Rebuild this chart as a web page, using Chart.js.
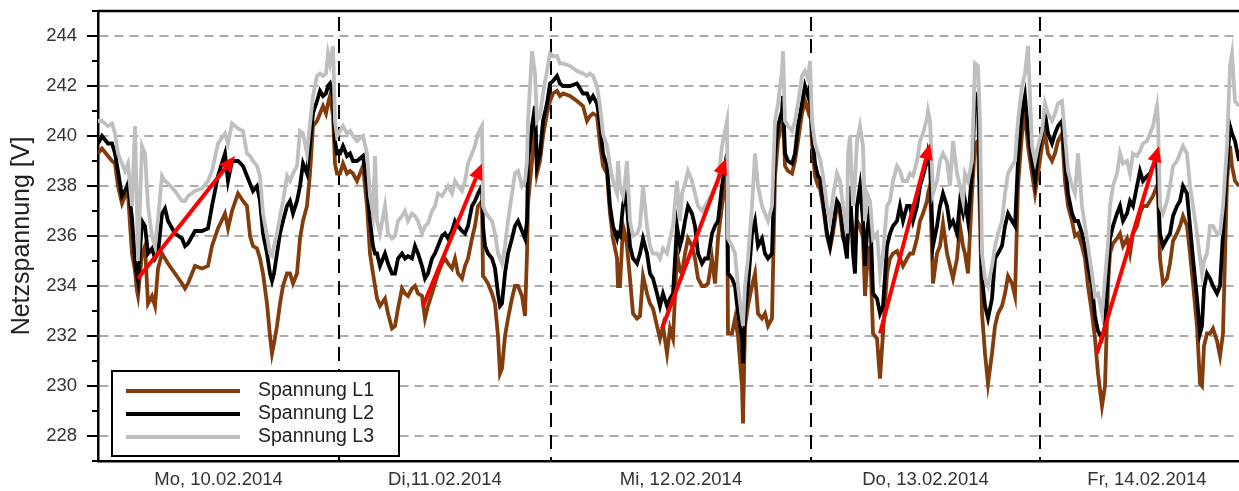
<!DOCTYPE html>
<html>
<head>
<meta charset="utf-8">
<script src="https://cdn.jsdelivr.net/npm/chart.js@4.4.0/dist/chart.umd.min.js"></script>
<style>
  body { margin: 0; background: #fff; }
  #wrap { width: 1239px; height: 491px; position: relative; }
</style>
</head>
<body>
<div id="wrap"><canvas id="chart"></canvas></div>
<script>
// Sample position along the week (0 = Monday start), one value per sample
const t = [
  // Mo
  0,4,10,14,17,20,24,27,30,34,37,39,40,44,47,50,54,57,60,64,67,70,77,84,87,90,97,104,110,114,120,127,130,134,140,145,149,152,155,159,162,165,169,172,174,176,179,182,185,189,192,195,199,202,205,209,212,215,219,222,225,228,230,232,235,237,239,
  // Di
  242,245,249,252,255,259,265,269,272,275,277,279,282,287,290,294,297,300,304,307,310,314,317,320,324,327,330,334,337,340,344,347,350,354,357,360,364,367,370,374,377,380,384,385,387,390,394,397,400,402,404,407,410,414,417,420,424,427,429,430,434,437,439,442,445,449,452,
  // Mi
  455,459,462,465,472,479,485,489,492,495,499,502,505,509,512,515,519,520,522,525,527,529,532,535,539,542,545,549,552,555,559,562,565,569,572,575,579,582,584,587,590,594,597,600,604,607,610,614,617,620,624,627,629,630,634,637,640,644,645,647,650,654,657,660,664,667,670,674,677,680,684,685,687,690,694,697,700,704,707,710,712,
  // Do
  714,717,720,722,725,729,732,735,739,742,745,749,750,752,755,757,759,762,765,767,769,772,775,779,782,785,789,792,795,799,802,805,809,812,815,819,822,825,829,830,832,835,839,842,845,849,852,855,859,862,865,867,870,874,877,880,882,884,887,890,894,897,900,904,907,910,914,917,920,924,927,930,934,937,940,
  // Fr
  944,947,950,954,957,960,964,967,970,974,977,980,984,987,990,994,997,1000,1004,1007,1010,1012,1015,1019,1022,1025,1029,1032,1035,1039,1042,1045,1049,1052,1055,1059,1060,1062,1065,1069,1072,1075,1079,1082,1085,1089,1092,1095,1099,1102,1104,1106,1109,1112,1115,1119,1122,1125,1129,1132,1134,1137,1141
];

const spannungL1 = [
  239.3,239.5,239.2,239.0,238.9,238.0,237.3,237.6,237.7,235.3,234.6,233.8,233.6,235.3,235.6,233.3,233.6,233.2,234.7,235.3,235.1,234.9,234.5,234.1,233.9,234.1,234.8,234.7,234.8,235.6,236.3,236.9,236.3,237.0,237.7,237.4,237.2,236.0,235.6,235.5,235.1,234.5,233.3,232.0,231.3,231.7,232.4,233.3,234.0,234.5,234.5,234.1,234.5,235.9,236.6,237.2,238.5,240.4,240.6,240.9,241.2,240.9,241.3,241.6,240.8,238.9,238.5,
  238.5,238.9,238.5,238.6,238.5,238.2,238.8,237.2,235.3,234.5,234.0,233.5,233.2,233.5,232.9,232.3,232.4,233.1,233.9,233.7,233.6,233.9,234.0,233.7,233.6,232.7,233.2,233.7,234.1,234.5,234.9,235.1,234.9,234.7,235.1,234.5,234.3,234.8,235.1,235.9,236.4,237.2,237.4,234.4,234.3,234.1,233.7,233.3,232.0,230.5,230.7,232.0,232.7,233.5,234.0,234.0,233.6,232.8,235.3,237.3,239.0,240.6,238.5,239.0,240.0,240.9,241.4,
  241.7,241.8,241.6,241.7,241.6,241.4,241.2,240.6,240.8,240.9,240.8,239.7,238.8,238.5,236.9,235.9,235.1,234.0,234.0,236.4,236.1,235.6,234.3,232.9,232.7,232.8,234.4,233.7,233.3,233.1,232.4,231.9,232.4,231.3,232.3,231.9,235.3,234.6,234.5,235.3,235.9,235.6,235.1,234.3,234.0,234.0,234.1,235.1,234.1,235.9,237.2,238.0,238.5,232.1,232.1,232.7,232.0,230.0,228.5,232.4,233.2,234.0,234.5,232.9,232.7,232.9,232.4,232.7,238.4,239.8,240.6,240.9,238.8,238.6,238.5,239.0,239.8,240.9,241.4,241.0,241.4,
  239.7,238.4,238.0,237.9,237.2,236.0,235.5,236.1,237.2,236.9,235.9,235.6,236.1,237.2,236.1,235.6,236.6,236.4,235.9,233.6,234.8,235.6,232.1,231.9,230.3,232.1,234.5,235.1,235.3,235.4,235.1,234.8,235.1,235.3,235.3,235.9,236.6,236.9,237.4,237.7,238.0,234.1,235.3,235.6,236.5,235.3,234.8,234.3,235.1,236.4,235.6,235.3,234.5,237.7,239.7,239.8,236.6,232.9,231.3,230.1,231.3,232.4,232.9,233.2,233.7,234.4,234.1,233.6,238.0,240.1,240.9,239.6,238.5,237.7,238.5,
  239.6,240.1,239.3,239.0,239.3,239.8,240.1,238.2,237.2,236.6,236.0,236.1,235.6,235.1,234.0,232.9,231.9,230.5,229.2,230.0,234.0,235.3,235.7,235.9,236.1,235.6,235.9,235.3,236.1,236.4,236.9,237.2,237.2,237.4,237.6,238.0,237.7,235.1,234.1,234.3,234.9,235.8,236.1,236.4,236.8,236.4,235.3,234.1,232.4,230.1,230.0,231.6,232.1,232.1,232.3,231.8,231.2,232.1,238.2,239.6,238.8,238.2,238.0
];

const spannungL2 = [
  239.7,240.0,239.7,239.7,239.3,238.6,237.6,237.8,238.1,236.7,235.0,234.4,234.2,236.6,236.4,235.3,235.5,235.1,235.3,236.9,237.1,236.6,236.1,235.9,235.6,235.7,236.2,236.2,236.3,237.2,238.4,239.3,238.2,239.0,239.0,238.8,238.4,238.1,237.8,238.0,237.4,236.1,235.3,234.5,234.2,234.5,235.3,236.1,236.6,237.2,237.4,236.9,237.4,238.0,238.9,238.5,239.7,240.9,241.4,241.8,241.6,241.7,242.0,242.1,241.6,239.8,239.3,
  239.3,239.6,239.2,239.3,239.0,239.0,239.2,238.0,236.6,235.6,235.3,235.3,234.8,235.3,234.9,234.5,234.5,235.1,235.3,235.1,235.2,235.1,235.6,235.3,234.8,234.3,234.5,235.1,235.3,235.6,236.0,236.1,235.9,236.2,236.6,236.4,236.2,236.1,236.4,237.2,237.4,237.7,238.0,236.4,235.6,235.3,235.1,234.7,233.7,233.2,233.3,234.5,235.3,235.9,236.4,236.6,236.2,235.9,236.6,239.0,240.4,241.2,238.8,239.3,240.6,241.3,242.1,
  242.2,242.4,242.1,242.0,242.0,242.1,241.7,241.7,241.4,241.6,241.3,240.5,239.3,238.8,237.2,236.4,235.9,236.1,236.0,237.2,237.7,237.2,235.6,235.1,234.9,235.3,235.9,235.3,234.5,234.3,233.7,233.2,233.7,233.2,233.5,233.7,236.4,235.6,235.9,236.6,237.2,236.9,236.4,235.3,234.9,235.1,235.1,236.1,236.4,236.6,238.0,238.8,239.3,234.5,234.3,234.0,232.9,231.9,230.9,232.9,234.0,236.1,236.6,235.6,235.9,235.3,235.1,235.3,239.3,240.4,241.0,241.6,239.3,239.0,238.9,239.3,240.4,241.3,242.0,241.6,242.0,
  240.2,238.9,238.4,238.3,237.4,236.1,235.6,236.4,237.4,237.2,236.1,235.1,236.4,238.0,235.3,234.5,237.2,238.0,236.6,234.8,236.1,237.2,233.7,233.5,232.9,233.2,235.6,236.1,236.4,236.6,237.2,236.6,237.2,237.2,236.6,237.2,238.0,238.4,239.0,239.3,238.9,235.6,236.4,237.2,237.7,237.2,236.4,236.6,236.1,237.4,236.9,237.4,236.6,238.5,241.7,241.4,238.0,234.3,233.2,232.7,233.5,235.1,235.3,235.6,236.4,236.9,236.6,236.4,239.0,240.9,241.6,240.2,239.0,238.2,239.3,
  240.1,240.9,240.1,239.7,240.1,240.4,240.6,239.0,237.7,236.9,236.6,236.6,236.1,235.6,234.8,234.0,232.8,232.2,231.9,232.4,234.6,235.9,236.4,236.9,237.2,236.6,236.9,237.4,237.2,238.0,238.6,238.2,238.4,238.5,238.8,239.0,238.0,236.1,235.6,235.9,236.1,236.8,237.2,237.4,238.0,237.7,236.4,235.1,233.5,232.1,232.4,233.9,234.5,234.3,234.0,233.7,234.0,236.1,238.8,240.4,240.1,239.8,239.0
];

const spannungL3 = [
  240.6,240.6,240.4,240.5,240.1,239.3,238.9,238.6,238.9,237.2,240.4,237.0,235.0,239.6,239.3,237.2,236.0,235.6,236.7,238.4,238.2,238.1,237.8,237.4,237.4,237.6,237.8,237.9,238.2,238.6,239.7,240.1,239.7,240.5,240.3,240.2,239.3,239.2,239.0,238.8,238.4,236.9,236.0,235.3,235.2,235.6,236.1,236.8,237.4,238.4,238.2,238.5,238.8,240.2,240.1,239.3,240.5,241.6,242.4,242.5,242.4,242.5,243.3,242.9,243.6,240.6,240.0,
  240.2,240.4,240.1,240.2,240.0,239.8,240.0,239.3,237.6,236.9,239.2,236.6,236.1,237.2,236.1,235.9,236.0,236.6,236.8,237.0,236.6,236.9,236.8,236.6,236.1,236.4,236.5,237.0,237.2,237.7,237.6,237.8,238.0,237.7,238.2,238.0,237.8,238.2,238.9,239.3,239.6,240.1,240.4,237.2,237.0,236.8,236.6,236.1,235.3,235.1,234.9,235.6,236.6,237.7,238.5,238.6,238.0,238.2,239.0,240.6,243.4,242.5,240.6,240.8,241.7,242.6,243.3,
  243.2,243.2,242.9,242.9,242.8,242.6,242.5,242.4,242.5,242.4,242.0,241.2,240.1,239.6,238.8,238.2,237.7,239.0,238.0,237.6,238.2,239.0,236.6,236.0,236.1,236.4,238.0,236.4,235.6,235.3,235.3,235.1,235.5,235.3,235.9,236.4,238.2,236.6,237.7,238.1,238.6,238.2,237.7,237.2,237.0,237.2,237.4,237.7,238.0,238.2,239.6,240.2,240.6,235.9,235.6,235.3,234.0,232.7,232.4,234.0,235.1,237.2,239.3,238.0,237.2,236.9,236.6,237.2,240.6,241.3,242.6,243.4,240.6,240.4,240.2,240.6,241.3,242.4,242.6,242.3,243.0,
  240.6,239.7,239.3,239.1,238.4,237.2,236.6,237.6,238.5,238.2,237.2,236.1,239.3,240.0,237.2,238.2,239.8,240.4,239.6,236.6,237.7,237.4,235.9,236.1,234.5,235.3,237.2,237.4,238.2,238.8,238.6,238.2,238.2,238.5,238.4,239.0,239.8,240.1,240.7,241.0,240.6,237.7,238.2,239.0,239.3,239.0,238.0,239.8,238.5,238.0,237.4,238.5,238.2,239.0,242.9,242.8,240.6,235.3,234.3,234.0,234.8,235.6,236.1,236.6,237.7,238.5,238.8,239.0,240.6,242.0,242.5,243.6,239.6,239.0,239.6,
  240.2,241.3,240.9,240.6,240.9,241.3,241.4,240.0,238.6,238.0,237.7,239.3,237.2,236.4,235.6,234.5,233.6,233.7,232.9,234.3,235.7,237.2,238.0,238.5,239.3,238.9,239.0,238.5,239.3,239.2,239.4,239.7,239.8,240.1,240.4,241.2,240.6,237.2,236.9,237.4,238.0,238.8,239.0,239.3,239.6,239.3,238.0,237.2,236.1,235.1,234.5,235.0,235.3,236.4,236.4,236.1,236.1,237.2,239.6,242.8,243.3,241.4,241.2
];

// day boundaries (same units as t); the last day runs past the right edge
const dayEdges = [0, 241, 453, 713, 942, 1156];
const dayLabels = ['Mo, 10.02.2014', 'Di,11.02.2014', 'Mi, 12.02.2014', 'Do, 13.02.2014', 'Fr, 14.02.2014'];
const yTicks = [228, 230, 232, 234, 236, 238, 240, 242, 244];
const yMinorTicks = [227, 229, 231, 233, 235, 237, 239, 241, 243, 245];

// red trend arrows [t, volts]
const arrowFrom = [[40, 234.3], [325, 233.2], [564, 232.3], [782, 232.1], [999, 231.3]];
const arrowTo = [[137, 239.2], [384, 238.9], [628, 239.1], [832, 239.7], [1061, 239.6]];

const FONT = 'Arial, "Liberation Sans", Helvetica, sans-serif';

function series(values) {
  return values.map((v, i) => ({ x: t[i], y: v }));
}

function drawArrow(ctx, x1, y1, x2, y2) {
  const ang = Math.atan2(y2 - y1, x2 - x1);
  const head = 16, half = 7;
  const bx = x2 - head * Math.cos(ang);
  const by = y2 - head * Math.sin(ang);
  ctx.strokeStyle = '#ff0000';
  ctx.fillStyle = '#ff0000';
  ctx.lineWidth = 4;
  ctx.beginPath();
  ctx.moveTo(x1, y1);
  ctx.lineTo(bx, by);
  ctx.stroke();
  ctx.beginPath();
  ctx.moveTo(x2, y2);
  ctx.lineTo(bx + half * Math.sin(ang), by - half * Math.cos(ang));
  ctx.lineTo(bx - half * Math.sin(ang), by + half * Math.cos(ang));
  ctx.closePath();
  ctx.fill();
}

const decor = {
  id: 'decor',
  beforeDatasetsDraw(chart) {
    const { ctx, chartArea: a, scales: { x } } = chart;
    ctx.save();
    ctx.strokeStyle = '#000';
    ctx.lineWidth = 2;
    ctx.setLineDash([14, 8]);
    dayEdges.slice(1, -1).forEach((v) => {
      const px = x.getPixelForValue(v);
      ctx.beginPath();
      ctx.moveTo(px, a.top + 6);
      ctx.lineTo(px, a.bottom);
      ctx.stroke();
    });
    ctx.restore();
  },
  afterDraw(chart) {
    const { ctx, chartArea: a, scales: { x, y } } = chart;
    ctx.save();

    // top frame line
    ctx.strokeStyle = '#000';
    ctx.lineWidth = 2.5;
    ctx.beginPath();
    ctx.moveTo(a.left, a.top);
    ctx.lineTo(a.right, a.top);
    ctx.stroke();

    // minor ticks on y axis
    ctx.lineWidth = 2;
    yMinorTicks.forEach((v) => {
      const py = y.getPixelForValue(v);
      ctx.beginPath();
      ctx.moveTo(a.left - 6, py);
      ctx.lineTo(a.left, py);
      ctx.stroke();
    });

    // arrows
    arrowFrom.forEach((p, i) => {
      const q = arrowTo[i];
      drawArrow(ctx, x.getPixelForValue(p[0]), y.getPixelForValue(p[1]),
        x.getPixelForValue(q[0]), y.getPixelForValue(q[1]));
    });

    // legend box
    const bx = a.left + 14, by = a.bottom - 90, bw = 287, bh = 85;
    ctx.fillStyle = '#fff';
    ctx.fillRect(bx, by, bw, bh);
    ctx.strokeStyle = '#000';
    ctx.lineWidth = 2;
    ctx.strokeRect(bx, by, bw, bh);
    [0, 1, 2].forEach((di, row) => {
      const ds = chart.data.datasets[di];
      const ry = by + 20 + row * 23;
      ctx.strokeStyle = ds.borderColor;
      ctx.lineWidth = 4;
      ctx.beginPath();
      ctx.moveTo(bx + 14, ry);
      ctx.lineTo(bx + 128, ry);
      ctx.stroke();
      ctx.fillStyle = '#222';
      ctx.font = '19.5px ' + FONT;
      ctx.textBaseline = 'middle';
      ctx.textAlign = 'left';
      ctx.fillText(ds.label, bx + 146, ry);
    });
    ctx.restore();
  }
};

const ctx = document.getElementById('chart').getContext('2d');
new Chart(ctx, {
  type: 'line',
  data: {
    datasets: [
      { label: 'Spannung L1', data: series(spannungL1), borderColor: '#833c0c', order: 2 },
      { label: 'Spannung L2', data: series(spannungL2), borderColor: '#000000', order: 1 },
      { label: 'Spannung L3', data: series(spannungL3), borderColor: '#bfbfbf', order: 0 }
    ]
  },
  options: {
    responsive: true,
    maintainAspectRatio: false,
    animation: false,
    layout: { padding: { top: 11, right: 0, bottom: 0, left: 0 } },
    elements: {
      line: { borderWidth: 3.8, tension: 0, fill: false },
      point: { radius: 0, hitRadius: 0 }
    },
    plugins: {
      legend: { display: false },
      tooltip: { enabled: false }
    },
    scales: {
      x: {
        type: 'linear',
        min: 0,
        max: 1141,
        afterBuildTicks: (s) => {
          s.ticks = dayLabels.map((_, i) => ({ value: (dayEdges[i] + dayEdges[i + 1]) / 2 }));
        },
        afterFit: (s) => {
          s.height = 30;
          s.paddingLeft = 0;
          s.paddingRight = 0;
        },
        ticks: {
          autoSkip: false,
          maxRotation: 0,
          padding: 8,
          color: '#333',
          font: { family: FONT, size: 18.5 },
          callback: (v, i) => dayLabels[i]
        },
        grid: { display: true, drawOnChartArea: false, drawTicks: false },
        border: { color: '#000', width: 2.5 }
      },
      y: {
        min: 227,
        max: 245,
        afterBuildTicks: (s) => { s.ticks = yTicks.map((v) => ({ value: v })); },
        afterFit: (s) => {
          s.width = 98;
          s.paddingTop = 0;
          s.paddingBottom = 0;
        },
        ticks: {
          padding: 10,
          color: '#333',
          font: { family: FONT, size: 18.5 }
        },
        grid: {
          color: '#acacac',
          lineWidth: 2,
          tickColor: '#000',
          tickWidth: 2,
          tickLength: 11,
          tickBorderDash: [0, 0]
        },
        border: { color: '#000', width: 2.5, dash: [9, 6] },
        title: {
          display: true,
          text: 'Netzspannung [V]',
          color: '#222',
          font: { family: FONT, size: 25 },
          padding: { top: 7, bottom: 0 }
        }
      }
    }
  },
  plugins: [decor]
});
</script>
</body>
</html>
